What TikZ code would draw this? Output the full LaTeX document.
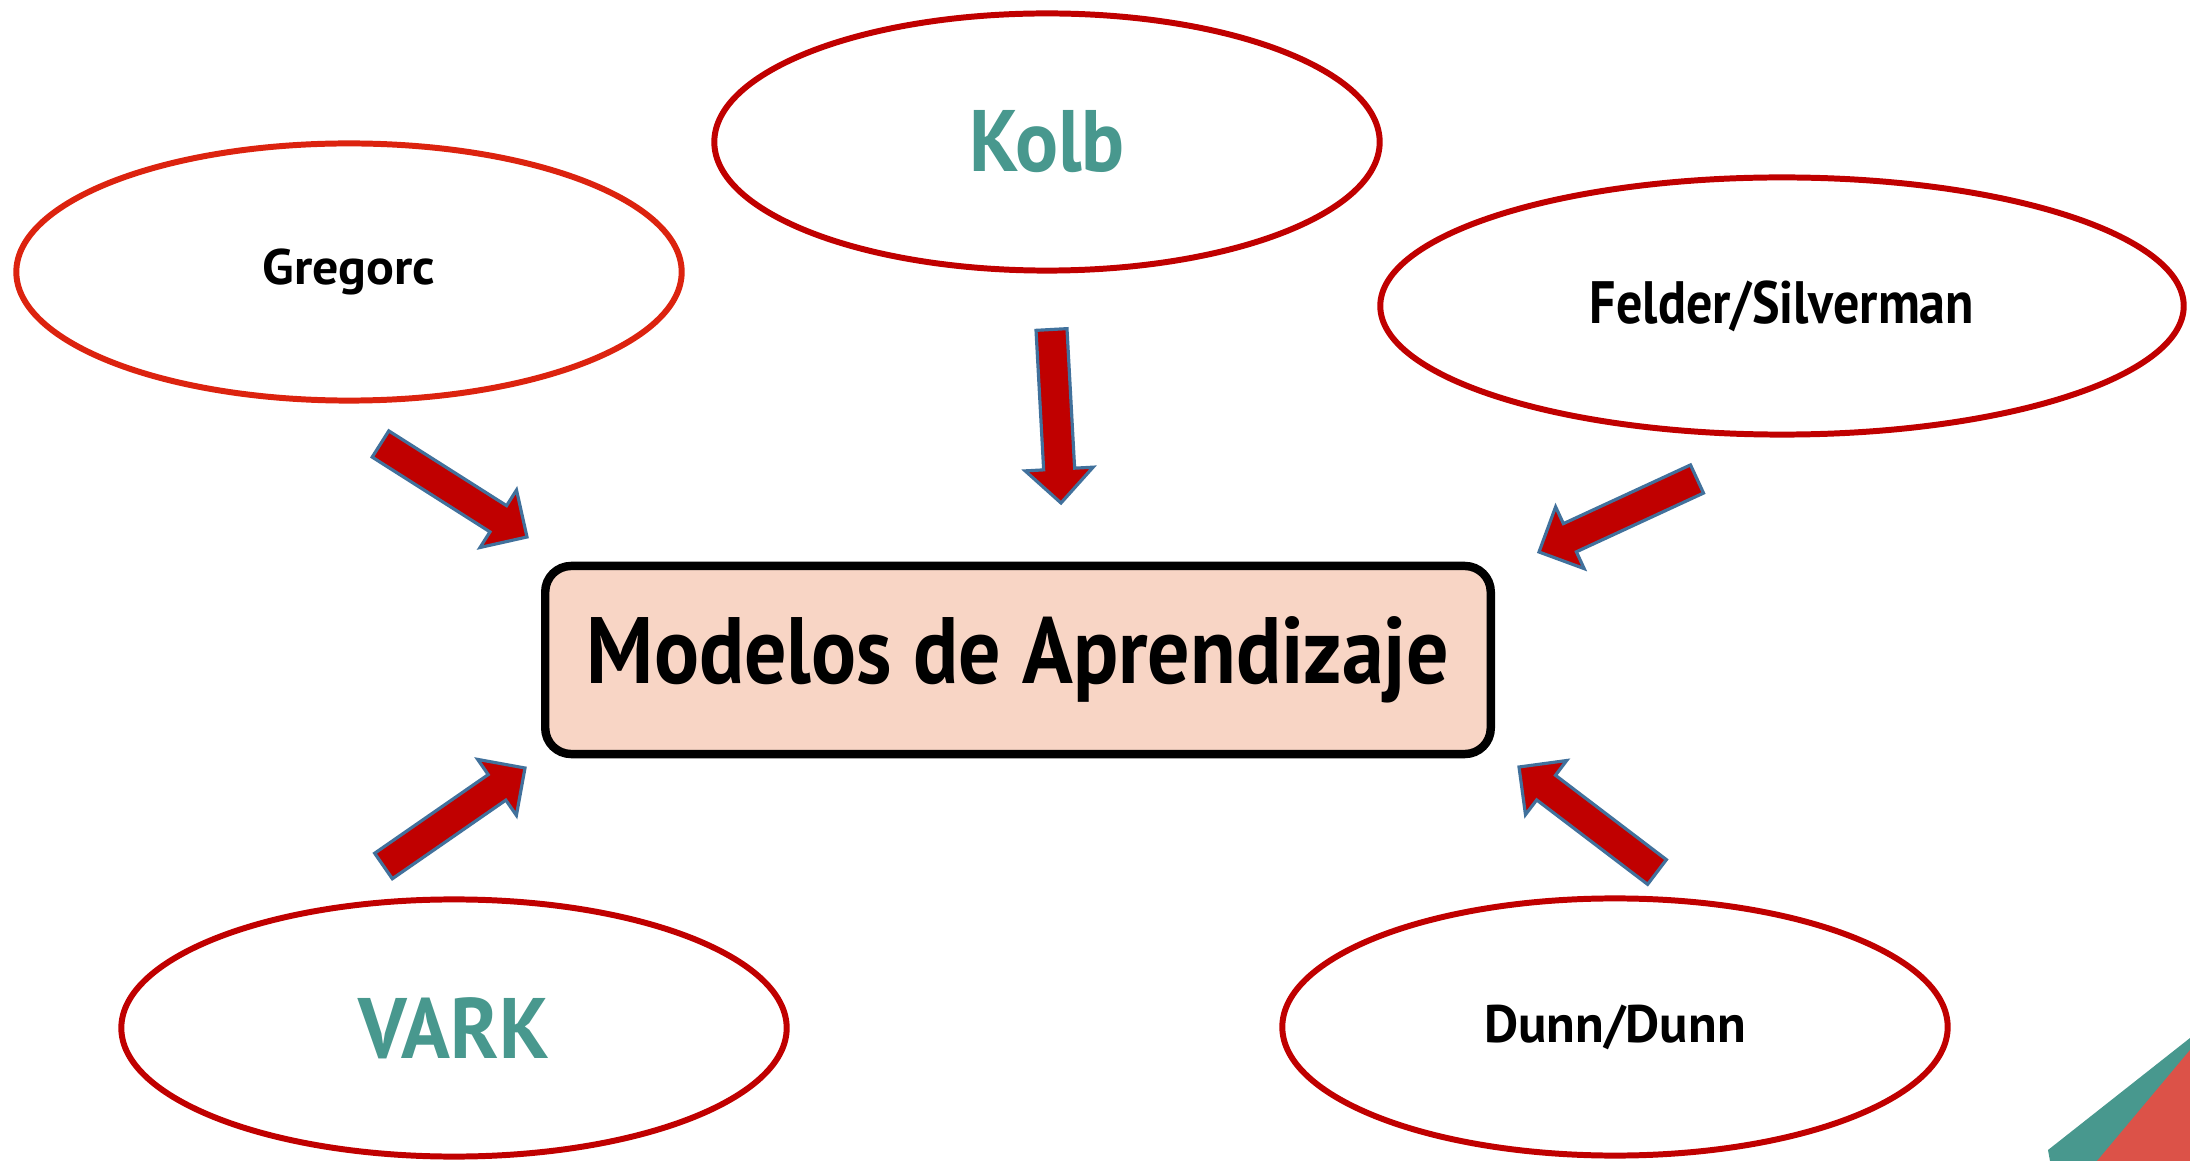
\documentclass[tikz,border=0pt]{standalone}
\usepackage{graphicx}
\usepackage{fontspec}
\setmainfont{PT Sans}
\usetikzlibrary{shapes.geometric,calc}

\definecolor{modelred}{RGB}{192,0,0}
\definecolor{gregred}{RGB}{220,35,15}
\definecolor{modelteal}{RGB}{72,152,142}
\definecolor{arrowblue}{RGB}{65,113,156}
\definecolor{boxpeach}{RGB}{248,213,197}
\definecolor{cornerred}{RGB}{220,82,72}

\tikzset{
    modelo/.style={ellipse, draw=modelred, line width=1.7pt, fill=white, inner sep=0pt,
        minimum width=6.65cm, minimum height=2.57cm},
    mainbox/.style={draw=black, line width=2.4pt, fill=boxpeach, rounded corners=0.26cm,
        minimum width=9.45cm, minimum height=1.88cm},
    bigarrow/.style={fill=modelred, draw=arrowblue, line width=0.9pt, line join=miter}
}

\newcommand{\modelarrow}[2]{%
    \coordinate (hd) at ($(#2)!0.34cm!(#1)$);
    \filldraw[bigarrow] ($(#1)!0.155cm!90:(#2)$) -- ($(hd)!0.155cm!90:(#2)$)
        -- ($(hd)!0.34cm!90:(#2)$) -- (#2) -- ($(hd)!0.34cm!-90:(#2)$)
        -- ($(hd)!0.155cm!-90:(#2)$) -- ($(#1)!0.155cm!-90:(#2)$) -- cycle;
}

\begin{document}
\begin{tikzpicture}[x=0.01cm, y=-0.01cm, font=\bfseries]
    \useasboundingbox (0,0) rectangle (2190,1161);
    \fill[modelteal] (2050,1161) -- (2048,1150) -- (2190,1038) -- (2190,1161) -- cycle;
    \fill[cornerred] (2097,1161) -- (2190,1050) -- (2190,1161) -- cycle;

    \node[modelo, draw=gregred, font=\bfseries\fontsize{14.2}{16}\selectfont] (gregorc) at (349,272) {\scalebox{1.04}[1]{Gregorc}};
    \node[modelo, text=modelteal, font=\bfseries\fontsize{24.8}{28}\selectfont] (kolb) at (1047,142) {\scalebox{0.92}[1]{Kolb}};
    \node[modelo, minimum width=8.03cm, font=\bfseries\fontsize{17}{20}\selectfont] (felder) at (1782,306) {\scalebox{0.87}[1]{Felder/Silverman}};
    \node[modelo, text=modelteal, font=\bfseries\fontsize{24.4}{28}\selectfont] (vark) at (454,1028) {\scalebox{0.94}[1]{VARK}};
    \node[modelo, font=\bfseries\fontsize{15}{18}\selectfont] (dunn) at (1615,1027) {Dunn/Dunn};

    \node[mainbox, font=\bfseries\fontsize{26.8}{30}\selectfont] (modelos) at (1018,660) {\scalebox{0.89}[1]{Modelos de Aprendizaje}};

    \coordinate (gt) at (380.5,444);
    \coordinate (gp) at (527,537);
    \coordinate (kt) at (1051.5,329.5);
    \coordinate (kp) at (1061,503);
    \coordinate (ft) at (1697,479);
    \coordinate (fp) at (1539,552);
    \coordinate (vt) at (383.5,866);
    \coordinate (vp) at (525,768);
    \coordinate (dt) at (1657,872);
    \coordinate (dp) at (1519,767);

    \modelarrow{gt}{gp}
    \modelarrow{kt}{kp}
    \modelarrow{ft}{fp}
    \modelarrow{vt}{vp}
    \modelarrow{dt}{dp}
\end{tikzpicture}
\end{document}
